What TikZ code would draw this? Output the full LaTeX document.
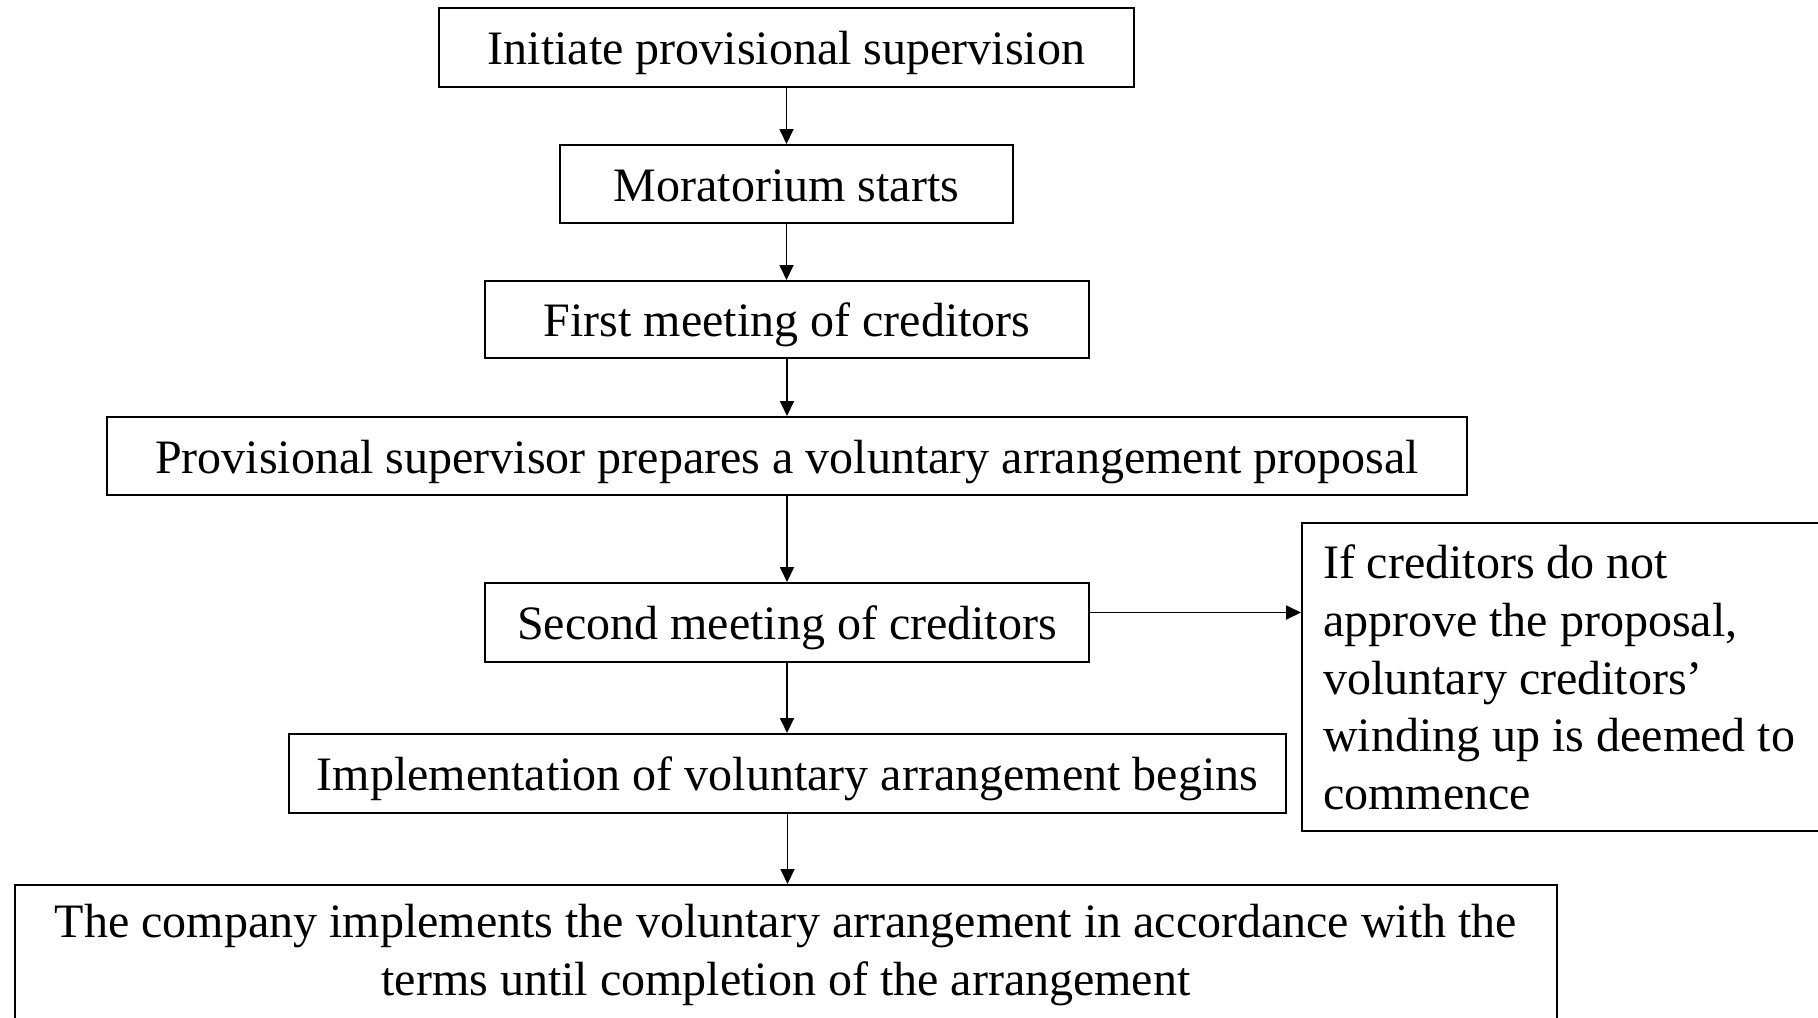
\documentclass[tikz,border=0pt]{standalone}
\usepackage{fontspec}
\setmainfont{Liberation Serif}
\usetikzlibrary{arrows.meta}
\begin{document}
\begin{tikzpicture}[x=0.5pt,y=-0.5pt,
  box/.style={draw, line width=1pt, inner sep=0pt, font=\fontsize{24}{28.8}\selectfont, align=center,
    execute at begin node={\rule[-6pt]{0pt}{29pt}},
    execute at end node={\rule[-6pt]{0pt}{0pt}}},
  arr/.style={-{Triangle[length=7.5pt,width=7pt]}, line width=0.9pt}]
\clip (0,0) rectangle (1818,1017);
\fill[white] (0,0) rectangle (1818,1017);
\node[box, minimum width=347.5pt, minimum height=39.5pt] (b1) at (786.5,47.5) {Initiate provisional supervision};
\node[box, minimum width=226.5pt, minimum height=39pt] (b2) at (786.5,184) {Moratorium starts};
\node[box, minimum width=302pt, minimum height=38.5pt] (b3) at (787,319.5) {First meeting of creditors};
\node[box, minimum width=680pt, minimum height=39pt] (b4) at (787,456) {Provisional supervisor prepares a voluntary arrangement proposal};
\node[box, minimum width=302pt, minimum height=39.5pt] (b5) at (787,622.5) {Second meeting of creditors};
\node[box, minimum width=498.5pt, minimum height=39.5pt] (b6) at (787.5,773.5) {Implementation of voluntary arrangement begins};
\node[box, minimum width=771pt, minimum height=71pt] (b7) at (786,956) {The company implements the voluntary arrangement in accordance with the\\terms until completion of the arrangement};
\node[box, align=flush left, text width=300pt, inner xsep=10.5pt, minimum height=154pt, anchor=west] (r) at (1301,677) {If creditors do not\\approve the proposal,\\voluntary creditors’\\winding up is deemed to\\commence};
\draw[arr] (b1.south) -- (b1.south |- b2.north);
\draw[arr] (b2.south) -- (b2.south |- b3.north);
\draw[arr] (b3.south) -- (b3.south |- b4.north);
\draw[arr] (b4.south) -- (b4.south |- b5.north);
\draw[arr] (b5.south) -- (b5.south |- b6.north);
\draw[arr] (b6.south) -- (b6.south |- b7.north);
\draw[arr] ([yshift=5pt]b5.east) -- ([yshift=5pt]b5.east -| r.west);
\end{tikzpicture}
\end{document}
